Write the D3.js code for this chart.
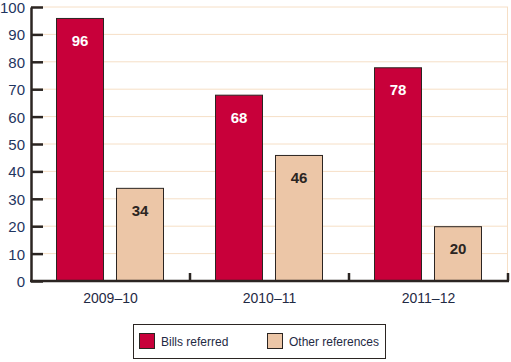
<!DOCTYPE html>
<html>
<head>
<meta charset="utf-8">
<script src="https://cdn.jsdelivr.net/npm/d3@7"></script>
<style>
  body { margin: 0; background: #fff; }
  svg { display: block; font-family: "Liberation Sans", Arial, sans-serif; }
</style>
</head>
<body>
<svg width="511" height="362"></svg>
<script>
var years = ["2009–10", "2010–11", "2011–12"];
var series = ["Bills referred", "Other references"];
var billsReferred = [96, 68, 78];
var otherReferences = [34, 46, 20];
var yTicks = [0, 10, 20, 30, 40, 50, 60, 70, 80, 90, 100];

var colors = ["#c8003a", "#ecc6a7"];
var labelColors = ["#ffffff", "#2b2522"];

var margin = { top: 7, right: 3, bottom: 81, left: 31 },
  width = 511,
  height = 362;

var rows = years.map(function(y, i) {
  return { year: y, values: [billsReferred[i], otherReferences[i]] };
});

var svg = d3.select("svg");

var x0 = d3.scaleBand()
  .domain(years)
  .range([margin.left, width - margin.right]);

var x1 = d3.scaleBand()
  .domain(series)
  .range([25, 133])
  .paddingInner(0.2);

var y = d3.scaleLinear()
  .domain([0, 100])
  .range([height - margin.bottom, margin.top]);

// gridlines
svg.append("g")
  .selectAll("line")
  .data(yTicks.filter(function(d) { return d > 0; }))
  .join("line")
  .attr("x1", margin.left)
  .attr("x2", width - margin.right)
  .attr("y1", function(d) { return y(d); })
  .attr("y2", function(d) { return y(d); })
  .style("stroke", "#f6dfc6")
  .style("stroke-width", 1);

// right border
svg.append("line")
  .attr("x1", width - margin.right - 0.5)
  .attr("x2", width - margin.right - 0.5)
  .attr("y1", y(100))
  .attr("y2", y(0))
  .style("stroke", "#f6dfc6");

// bars
var group = svg.append("g")
  .selectAll("g")
  .data(rows)
  .join("g")
  .attr("transform", function(d) { return "translate(" + x0(d.year) + ",0)"; });

group.selectAll("rect")
  .data(function(d) { return d.values.map(function(v, i) { return { key: series[i], value: v, i: i }; }); })
  .join("rect")
  .attr("x", function(d) { return x1(d.key) + 0.5; })
  .attr("y", function(d) { return y(d.value) + 0.5; })
  .attr("width", x1.bandwidth() - 1)
  .attr("height", function(d) { return y(0) - y(d.value) - 1; })
  .style("fill", function(d) { return colors[d.i]; })
  .style("stroke", "#2b2522")
  .style("stroke-width", 1);

group.selectAll("text")
  .data(function(d) { return d.values.map(function(v, i) { return { key: series[i], value: v, i: i }; }); })
  .join("text")
  .attr("x", function(d) { return x1(d.key) + x1.bandwidth() / 2; })
  .attr("y", function(d) { return y(d.value) + 28; })
  .attr("text-anchor", "middle")
  .style("font-size", "15px")
  .style("font-weight", "bold")
  .style("fill", function(d) { return labelColors[d.i]; })
  .text(function(d) { return d.value; });

// y axis
var yAxis = svg.append("g")
  .attr("transform", "translate(" + margin.left + ",0)")
  .call(d3.axisRight(y).tickValues(yTicks).tickSize(12).tickSizeOuter(0).tickFormat(d3.format("d")));
yAxis.select(".domain").style("stroke", "#2b2522").style("stroke-width", 2.5);
yAxis.selectAll(".tick line").style("stroke", "#2b2522").style("stroke-width", 2.5);
yAxis.selectAll(".tick text")
  .attr("x", -6)
  .attr("text-anchor", "end")
  .attr("dy", "0.36em")
  .style("font-size", "15px")
  .style("fill", "#1f3560");

// x axis
var xAxis = svg.append("g")
  .attr("transform", "translate(0," + y(0) + ")");
xAxis.append("line")
  .attr("x1", margin.left - 1)
  .attr("x2", width - margin.right + 1)
  .style("stroke", "#2b2522")
  .style("stroke-width", 2.5);
xAxis.selectAll(".sep")
  .data(years.slice(1).concat(["end"]))
  .join("line")
  .attr("class", "sep")
  .attr("x1", function(d) { return d === "end" ? width - margin.right : x0(d); })
  .attr("x2", function(d) { return d === "end" ? width - margin.right : x0(d); })
  .attr("y1", 0)
  .attr("y2", -8)
  .style("stroke", "#2b2522")
  .style("stroke-width", 2.5);
xAxis.selectAll("text")
  .data(years)
  .join("text")
  .attr("x", function(d) { return x0(d) + x0.bandwidth() / 2; })
  .attr("y", 22)
  .attr("text-anchor", "middle")
  .style("font-size", "14px")
  .style("fill", "#1f2a44")
  .text(function(d) { return d; });

// legend
var legend = svg.append("g").attr("transform", "translate(133,324)");
legend.append("rect")
  .attr("x", 0.5).attr("y", 0.5)
  .attr("width", 252).attr("height", 34)
  .style("fill", "#fff")
  .style("stroke", "#2b2522");
var items = legend.selectAll("g")
  .data(series)
  .join("g")
  .attr("transform", function(d, i) { return "translate(" + (6 + i * 128) + ",9)"; });
items.append("rect")
  .attr("x", 0.5).attr("y", 0.5)
  .attr("width", 15).attr("height", 15)
  .style("fill", function(d, i) { return colors[i]; })
  .style("stroke", "#2b2522");
items.append("text")
  .attr("x", 22)
  .attr("y", 12.5)
  .style("font-size", "12px")
  .style("fill", "#1f2a44")
  .text(function(d) { return d; });
</script>
</body>
</html>
